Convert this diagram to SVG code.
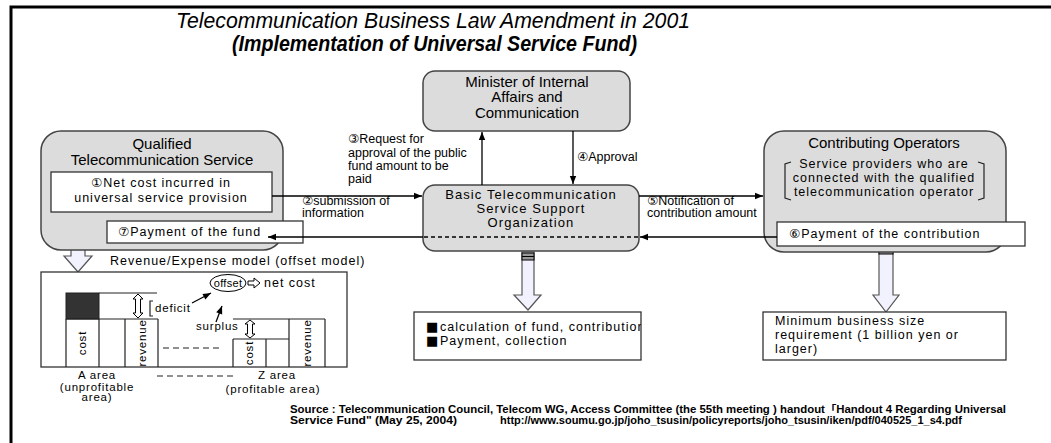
<svg xmlns="http://www.w3.org/2000/svg" width="1051" height="443" viewBox="0 0 1051 443">
<defs>
<style>
text { font-family: "Liberation Sans", "DejaVu Sans", "Noto Sans CJK JP", sans-serif; fill: #000; }
.title { font-style: italic; font-size: 22px; }
.box { fill: #dcdcdc; stroke: #444; stroke-width: 1.5; }
.wbox { fill: #fff; stroke: #333; stroke-width: 1.3; }
.hd { font-size: 15px; text-anchor: middle; }
.sp { font-size: 12.5px; letter-spacing: 1px; }
.sp13 { font-size: 13px; letter-spacing: 1.1px; text-anchor: middle; }
.lb { font-size: 12.5px; }
.sm { font-size: 11.5px; letter-spacing: 0.8px; }
.src { font-size: 10px; font-weight: bold; }
.sq { font-family: "DejaVu Sans", sans-serif; font-size: 13px; }
.ln { stroke: #000; stroke-width: 1.3; fill: none; }
.thin { stroke: #222; stroke-width: 1.2; fill: none; }
.blk { fill: #f2f2ff; stroke: #555; stroke-width: 1.2; }
.stripe { fill: #999; stroke: #000; stroke-width: 1; }
.hol { fill: #fff; stroke: #000; stroke-width: 1; }
</style>
<marker id="ah" viewBox="0 0 10 10" refX="10" refY="5" markerWidth="9" markerHeight="8" markerUnits="userSpaceOnUse" orient="auto">
<path d="M0,1 L10,5 L0,9 z" fill="#000"/>
</marker>
<clipPath id="clipCalc"><rect x="414" y="312" width="227" height="48"/></clipPath>
</defs>

<!-- page frame -->
<path d="M11,443 V7 H1051" stroke="#000" stroke-width="3" fill="none"/>

<!-- heading -->
<g id="heading">
<text class="title" x="176" y="28" textLength="514" lengthAdjust="spacingAndGlyphs">Telecommunication Business Law Amendment in 2001</text>
<text class="title" x="232" y="51" font-weight="bold" textLength="405" lengthAdjust="spacingAndGlyphs">(Implementation of Universal Service Fund)</text>
</g>

<!-- connector labels (sit beneath the boxes) -->
<g id="connector-labels">
<text class="lb" x="348" y="143">③Request for</text>
<text class="lb" x="348" y="157">approval of the public</text>
<text class="lb" x="348" y="170">fund amount to be</text>
<text class="lb" x="348" y="183">paid</text>
<text class="lb" x="577" y="161">④Approval</text>
<text class="lb" x="302" y="205">②submission of</text>
<text class="lb" x="302" y="217">information</text>
<text class="lb" x="647" y="205">⑤Notification of</text>
<text class="lb" x="647" y="217">contribution amount</text>
</g>

<!-- block arrows down to the detail boxes -->
<g id="block-arrows">
<path class="blk" d="M71,212 H85 V256 H92 L78,272 L64,256 H71 Z"/>
<rect class="stripe" x="71" y="213" width="14" height="6"/>
<line x1="71" y1="216" x2="85" y2="216" stroke="#000"/>
<path class="blk" d="M522,252 H534 V295 H541 L528,310 L514,295 H522 Z"/>
<rect class="stripe" x="522" y="253" width="12" height="7"/>
<line x1="522" y1="256.5" x2="534" y2="256.5" stroke="#000"/>
<path class="blk" d="M879,246 H893 V295 H899 L886,312 L873,295 H879 Z"/>
<rect class="stripe" x="879" y="247" width="14" height="7"/>
<line x1="879" y1="250.5" x2="893" y2="250.5" stroke="#000"/>
</g>

<!-- Qualified Telecommunication Service -->
<g id="qualified-service">
<rect class="box" x="41" y="131" width="242" height="119" rx="20"/>
<text class="hd" x="162" y="149">Qualified</text>
<text class="hd" x="162" y="165">Telecommunication Service</text>
<rect class="wbox" x="51" y="172" width="221" height="40"/>
<text class="sp" x="161" y="187" text-anchor="middle">①Net cost incurred in</text>
<text class="sp" x="161" y="202" text-anchor="middle">universal service provision</text>
<rect class="wbox" x="107" y="221" width="196" height="22"/>
<text class="sp" x="118" y="236">⑦Payment of the fund</text>
</g>

<!-- Minister -->
<g id="minister">
<rect class="box" x="423" y="71" width="207" height="60" rx="12"/>
<text class="hd" x="527" y="87">Minister of Internal</text>
<text class="hd" x="527" y="102">Affairs and</text>
<text class="hd" x="527" y="118">Communication</text>
</g>

<!-- Support organization -->
<g id="support-org">
<rect class="box" x="423" y="185" width="216" height="66" rx="12"/>
<text class="sp13" x="531" y="199">Basic Telecommunication</text>
<text class="sp13" x="531" y="213">Service Support</text>
<text class="sp13" x="531" y="227">Organization</text>
</g>

<!-- Contributing Operators -->
<g id="contributing-operators">
<rect class="box" x="764" y="131" width="242" height="121" rx="20"/>
<text class="hd" x="884" y="148">Contributing Operators</text>
<path class="thin" d="M791,162 L785,164 V198 L791,200 M978,162 L984,164 V198 L978,200"/>
<text class="sp" x="884" y="168" text-anchor="middle" font-size="12">Service providers who are</text>
<text class="sp" x="884" y="182" text-anchor="middle" font-size="12">connected with the qualified</text>
<text class="sp" x="884" y="196" text-anchor="middle" font-size="12">telecommunication operator</text>
<rect class="wbox" x="777" y="222" width="248" height="24"/>
<text class="sp" x="789" y="238">⑥Payment of the contribution</text>
</g>

<!-- Tasks of the organization -->
<g id="org-tasks">
<rect class="wbox" x="414" y="312" width="227" height="48"/>
<g clip-path="url(#clipCalc)">
<text class="sq" x="426" y="331">■</text>
<text class="sp" x="440" y="331" letter-spacing="1.1">calculation of fund, contribution</text>
<text class="sq" x="426" y="345">■</text>
<text class="sp" x="440" y="345" letter-spacing="1.1">Payment, collection</text>
</g>
</g>

<!-- Business size requirement -->
<g id="size-requirement">
<rect class="wbox" x="763" y="312" width="243" height="48"/>
<text class="sp" x="775" y="325">Minimum business size</text>
<text class="sp" x="775" y="339">requirement (1 billion yen or</text>
<text class="sp" x="775" y="353">larger)</text>
</g>

<!-- Revenue/Expense (offset) model -->
<g id="offset-model">
<text class="sp" x="110" y="265">Revenue/Expense model (offset model)</text>
<rect x="41" y="272" width="306" height="95" fill="#fff" stroke="#333" stroke-width="1.3"/>
<rect x="66" y="293" width="33" height="26" fill="#333" stroke="#222"/>
<path class="thin" d="M99,293 H157 M66,319 H158 M66,319 V367 M99,319 V367 M125,319 V367 M158,319 V367"/>
<path class="thin" d="M233,319 H325 M233,339 H289 M233,339 V367 M266,339 V367 M289,319 V367 M325,319 V367"/>
<path class="thin" d="M163,348 H222" stroke-dasharray="6,4"/>
<text class="sm" transform="translate(86,343) rotate(-90)" text-anchor="middle">cost</text>
<text class="sm" transform="translate(146,343) rotate(-90)" text-anchor="middle">revenue</text>
<text class="sm" transform="translate(253,353) rotate(-90)" text-anchor="middle">cost</text>
<text class="sm" transform="translate(311,343) rotate(-90)" text-anchor="middle">revenue</text>
<path class="hol" d="M138,294 L143,299 H140.5 V313 H143 L138,318 L133,313 H135.5 V299 H133 Z"/>
<path class="thin" d="M153,301 H150 V316 H153"/>
<text class="sm" x="155" y="312">deficit</text>
<path class="hol" d="M250,320 L255,324 H252.5 V334 H255 L250,338 L245,334 H247.5 V324 H245 Z"/>
<text class="sm" x="196" y="330">surplus</text>
<ellipse cx="228" cy="283" rx="18" ry="8.5" fill="#fff" stroke="#000" stroke-width="1"/>
<text x="228" y="287" font-size="11" letter-spacing="0.3" text-anchor="middle">offset</text>
<path class="hol" d="M248,281 H254 V278 L260,283 L254,288 V285 H248 Z"/>
<text class="sp" x="264" y="287">net cost</text>
<line class="ln" x1="192" y1="303" x2="211" y2="293" marker-end="url(#ah)"/>
<line class="ln" x1="216" y1="322" x2="222" y2="306" marker-end="url(#ah)"/>
<text class="sm" x="97" y="379" text-anchor="middle">A area</text>
<path class="thin" d="M157,376 H237" stroke-dasharray="6,4"/>
<text class="sm" x="277" y="379" text-anchor="middle">Z area</text>
<text class="sm" x="97" y="391" text-anchor="middle" font-size="11">(unprofitable</text>
<text class="sm" x="97" y="401" text-anchor="middle" font-size="11">area)</text>
<text class="sm" x="273" y="393" text-anchor="middle">(profitable area)</text>
</g>

<!-- connectors -->
<g id="connectors">
<line class="ln" x1="482" y1="185" x2="482" y2="132" marker-end="url(#ah)"/>
<line class="ln" x1="573" y1="131" x2="573" y2="184" marker-end="url(#ah)"/>
<line class="ln" x1="272" y1="196" x2="422" y2="196" marker-end="url(#ah)"/>
<line class="ln" x1="639" y1="196" x2="763" y2="196" marker-end="url(#ah)"/>
<line class="ln" x1="777" y1="237" x2="640" y2="237" marker-end="url(#ah)"/>
<line class="ln" x1="638" y1="237" x2="424" y2="237" stroke-dasharray="4,3"/>
<line class="ln" x1="423" y1="237" x2="268" y2="237" marker-end="url(#ah)"/>
</g>

<!-- source note -->
<g id="source">
<text class="src" x="290" y="413" textLength="716" lengthAdjust="spacingAndGlyphs">Source : Telecommunication Council, Telecom WG, Access Committee (the 55th meeting ) handout「Handout 4 Regarding Universal</text>
<text class="src" x="290" y="424" textLength="167" lengthAdjust="spacingAndGlyphs">Service Fund" (May 25, 2004)</text>
<text class="src" x="500" y="424" textLength="462" lengthAdjust="spacingAndGlyphs">http://www.soumu.go.jp/joho_tsusin/policyreports/joho_tsusin/iken/pdf/040525_1_s4.pdf</text>
</g>
</svg>
